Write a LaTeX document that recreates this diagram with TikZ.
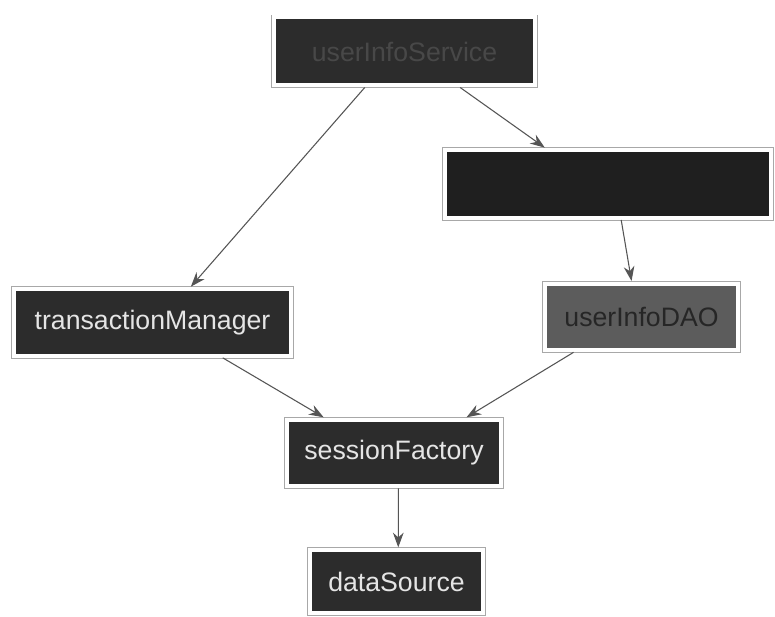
\documentclass[tikz,border=0pt]{standalone}
\usepackage{fontspec}
\setmainfont{Liberation Sans}
\usetikzlibrary{calc,arrows.meta}
\definecolor{boxdark}{HTML}{2C2C2C}
\definecolor{boxgray}{HTML}{5C5C5C}
\definecolor{rim}{HTML}{A8A8A8}
\definecolor{linkc}{HTML}{555555}
\definecolor{dimtext}{HTML}{484848}
\begin{document}
\begin{tikzpicture}[x=0.75pt,y=-0.75pt,
  bean/.style={preaction={draw=rim, line width=4.3pt}, draw=white, line width=3pt,
    fill=boxdark, text=white!90!black, font=\fontsize{20}{24}\selectfont,
    inner sep=0pt, minimum height=50pt},
  link/.style={draw=linkc, line width=0.8pt, -{Stealth[length=11pt,width=8pt]}, shorten >=0.5pt}]
\useasboundingbox (0,0) rectangle (775,617);
\fill[white] (0,0) rectangle (775,617);

\node[bean, minimum width=195.75pt, minimum height=51pt, text=dimtext] (top) at (404.5,51.5) {userInfoService};
\node[bean, minimum width=244.5pt, minimum height=51pt, fill=black!88] (proxy) at (608,184) {};
\node[bean, minimum width=207.75pt] (tm) at (152.5,322.5) {transactionManager};
\node[bean, minimum width=144.75pt, fill=boxgray, text=black!85] (dao) at (641.5,317) {userInfoDAO};
\node[bean, minimum width=160.5pt] (sf) at (394,453) {sessionFactory};
\node[bean, minimum width=129.75pt, minimum height=47.25pt] (ds) at (396.5,581.5) {dataSource};

\draw[link] ($(top.south west)!0.35!(top.south east)$) -- ($(tm.north west)!0.635!(tm.north east)$);
\draw[link] ($(top.south west)!0.71!(top.south east)$) -- ($(proxy.north west)!0.31!(proxy.north east)$);
\draw[link] ($(proxy.south west)!0.54!(proxy.south east)$) -- ($(dao.north west)!0.45!(dao.north east)$);
\draw[link] ($(tm.south west)!0.75!(tm.south east)$) -- ($(sf.north west)!0.18!(sf.north east)$);
\draw[link] ($(dao.south west)!0.155!(dao.south east)$) -- ($(sf.north west)!0.83!(sf.north east)$);
\draw[link] ($(sf.south west)!0.52!(sf.south east)$) -- ($(ds.north west)!0.51!(ds.north east)$);
\end{tikzpicture}
\end{document}
